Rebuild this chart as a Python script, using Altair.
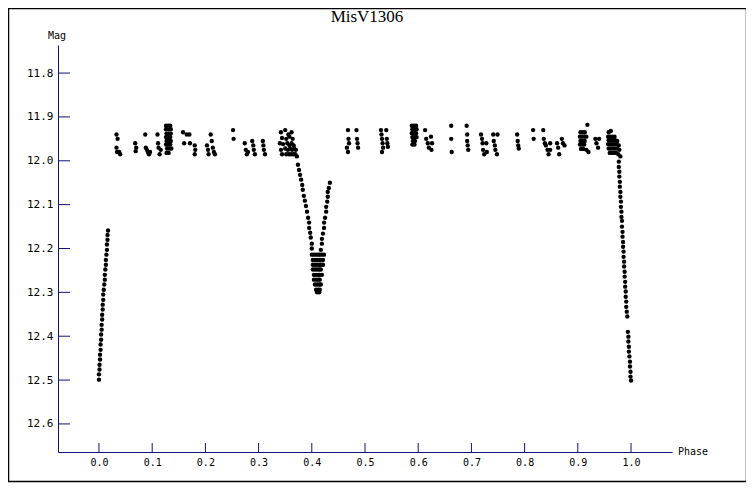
import altair as alt
import pandas as pd

title_text = "MisV1306"
x_ticks = [0.0, 0.1, 0.2, 0.3, 0.4, 0.5, 0.6, 0.7, 0.8, 0.9, 1.0]
y_ticks = [11.8, 11.9, 12.0, 12.1, 12.2, 12.3, 12.4, 12.5, 12.6]

# out-of-eclipse plateau (phase, mag)
plateau = [
    (0.033, 11.94), (0.035, 11.95), (0.033, 11.97), (0.034, 11.98), (0.038, 11.98), (0.040, 11.985),
    (0.068, 11.96), (0.070, 11.97), (0.069, 11.978),
    (0.087, 11.94), (0.088, 11.97), (0.090, 11.975), (0.092, 11.98), (0.094, 11.985), (0.096, 11.98),
    (0.110, 11.94), (0.111, 11.96), (0.112, 11.97), (0.114, 11.985), (0.116, 11.975),
    (0.126, 11.92), (0.130, 11.92), (0.134, 11.92),
    (0.126, 11.928), (0.131, 11.928), (0.135, 11.928),
    (0.127, 11.938), (0.131, 11.938), (0.135, 11.938),
    (0.126, 11.946), (0.130, 11.946), (0.134, 11.946),
    (0.127, 11.955), (0.131, 11.955), (0.135, 11.955),
    (0.126, 11.963), (0.130, 11.963), (0.134, 11.963),
    (0.128, 11.972), (0.132, 11.972), (0.136, 11.972),
    (0.127, 11.982), (0.131, 11.982),
    (0.158, 11.935), (0.160, 11.96), (0.165, 11.94), (0.170, 11.94), (0.171, 11.96),
    (0.180, 11.965), (0.181, 11.975), (0.180, 11.985),
    (0.203, 11.965), (0.205, 11.975), (0.206, 11.985), (0.210, 11.94), (0.212, 11.955),
    (0.214, 11.97), (0.216, 11.98), (0.218, 11.985),
    (0.252, 11.93), (0.253, 11.95),
    (0.274, 11.96), (0.276, 11.975), (0.278, 11.985), (0.280, 11.98),
    (0.288, 11.955), (0.290, 11.965), (0.291, 11.975), (0.293, 11.985),
    (0.308, 11.955), (0.309, 11.965), (0.310, 11.975), (0.312, 11.985),
    (0.342, 11.935), (0.350, 11.93), (0.356, 11.94), (0.362, 11.935),
    (0.344, 11.948), (0.352, 11.95), (0.358, 11.945), (0.364, 11.95),
    (0.340, 11.96), (0.346, 11.962), (0.354, 11.96), (0.358, 11.965), (0.362, 11.96), (0.366, 11.965),
    (0.342, 11.975), (0.350, 11.972), (0.355, 11.975), (0.359, 11.972), (0.363, 11.975), (0.367, 11.972), (0.370, 11.975),
    (0.344, 11.985), (0.352, 11.985), (0.357, 11.985), (0.361, 11.985), (0.365, 11.985), (0.369, 11.985), (0.372, 11.99),
    (0.468, 11.93), (0.469, 11.95), (0.470, 11.96), (0.466, 11.97), (0.468, 11.98),
    (0.484, 11.93), (0.485, 11.95), (0.486, 11.96), (0.487, 11.97),
    (0.530, 11.93), (0.531, 11.94), (0.532, 11.95), (0.533, 11.96), (0.534, 11.97), (0.532, 11.98),
    (0.540, 11.93), (0.541, 11.95), (0.542, 11.96), (0.543, 11.968),
    (0.588, 11.92), (0.592, 11.92), (0.596, 11.92),
    (0.589, 11.928), (0.593, 11.928), (0.597, 11.928),
    (0.588, 11.937), (0.592, 11.937), (0.596, 11.937),
    (0.589, 11.946), (0.593, 11.946), (0.597, 11.946),
    (0.590, 11.955), (0.594, 11.955), (0.589, 11.963), (0.593, 11.963),
    (0.613, 11.93), (0.615, 11.95), (0.618, 11.96), (0.620, 11.97), (0.624, 11.945), (0.626, 11.96), (0.625, 11.975),
    (0.662, 11.92), (0.662, 11.95), (0.663, 11.98),
    (0.691, 11.92), (0.692, 11.94), (0.692, 11.955), (0.693, 11.965), (0.694, 11.975),
    (0.718, 11.94), (0.720, 11.95), (0.721, 11.96), (0.722, 11.975), (0.724, 11.985), (0.728, 11.96), (0.729, 11.98),
    (0.741, 11.94), (0.742, 11.955), (0.744, 11.965), (0.745, 11.975), (0.748, 11.985), (0.749, 11.94),
    (0.786, 11.94), (0.787, 11.955), (0.788, 11.965), (0.789, 11.972),
    (0.816, 11.93), (0.817, 11.95),
    (0.835, 11.93), (0.836, 11.95), (0.838, 11.96), (0.840, 11.965), (0.843, 11.975), (0.845, 11.985),
    (0.848, 11.96), (0.848, 11.975),
    (0.861, 11.96), (0.863, 11.97), (0.865, 11.985), (0.870, 11.95), (0.872, 11.96), (0.875, 11.965),
    (0.918, 11.918),
    (0.905, 11.935), (0.909, 11.935), (0.913, 11.935),
    (0.904, 11.945), (0.908, 11.945), (0.912, 11.945), (0.916, 11.945),
    (0.905, 11.955), (0.909, 11.955), (0.913, 11.955),
    (0.904, 11.963), (0.908, 11.963), (0.912, 11.963),
    (0.906, 11.973), (0.910, 11.973), (0.916, 11.975), (0.920, 11.98),
    (0.933, 11.95), (0.935, 11.96), (0.938, 11.97), (0.940, 11.95),
    (0.958, 11.935), (0.962, 11.932),
    (0.957, 11.945), (0.961, 11.945), (0.965, 11.945), (0.969, 11.945),
    (0.958, 11.953), (0.962, 11.953), (0.966, 11.953), (0.970, 11.953), (0.974, 11.955),
    (0.957, 11.962), (0.961, 11.962), (0.965, 11.962), (0.969, 11.962), (0.973, 11.962), (0.977, 11.965),
    (0.958, 11.972), (0.962, 11.972), (0.966, 11.972), (0.970, 11.972), (0.974, 11.972), (0.978, 11.975),
    (0.960, 11.982), (0.964, 11.982), (0.968, 11.982), (0.972, 11.982), (0.976, 11.985), (0.980, 11.99),
]

# secondary eclipse
secondary = [
    (0.374, 12.009), (0.376, 12.021), (0.378, 12.032), (0.380, 12.043), (0.382, 12.055),
    (0.383, 12.066), (0.385, 12.080), (0.387, 12.091), (0.389, 12.103), (0.391, 12.116),
    (0.393, 12.130), (0.395, 12.141), (0.395, 12.153), (0.397, 12.164), (0.398, 12.175),
    (0.400, 12.189), (0.400, 12.200),
    (0.400, 12.214), (0.404, 12.214), (0.408, 12.214), (0.412, 12.214), (0.415, 12.214), (0.419, 12.214), (0.423, 12.214),
    (0.402, 12.226), (0.406, 12.226), (0.410, 12.226), (0.414, 12.226), (0.417, 12.226), (0.421, 12.226),
    (0.402, 12.237), (0.406, 12.237), (0.410, 12.237), (0.414, 12.237), (0.417, 12.237), (0.421, 12.237),
    (0.402, 12.248), (0.406, 12.248), (0.410, 12.248), (0.414, 12.248), (0.417, 12.248),
    (0.404, 12.260), (0.408, 12.260), (0.412, 12.260), (0.415, 12.260), (0.419, 12.260),
    (0.404, 12.271), (0.408, 12.271), (0.412, 12.271), (0.415, 12.271),
    (0.406, 12.282), (0.410, 12.282), (0.414, 12.282), (0.417, 12.282),
    (0.408, 12.294), (0.412, 12.294), (0.415, 12.294),
    (0.410, 12.300), (0.414, 12.300),
    (0.417, 12.203), (0.419, 12.189), (0.419, 12.178), (0.421, 12.166), (0.423, 12.153),
    (0.423, 12.141), (0.425, 12.130), (0.427, 12.116), (0.427, 12.105), (0.429, 12.093),
    (0.430, 12.082), (0.430, 12.071), (0.432, 12.062), (0.434, 12.050),
]

# primary eclipse ingress (phase ~0.98-1.0)
ingress = [
    (0.977, 12.002), (0.977, 12.014), (0.978, 12.025), (0.978, 12.036), (0.979, 12.048),
    (0.979, 12.059), (0.980, 12.071), (0.980, 12.082), (0.981, 12.093), (0.981, 12.105),
    (0.982, 12.116), (0.982, 12.128), (0.983, 12.137), (0.983, 12.150), (0.984, 12.162),
    (0.984, 12.173), (0.985, 12.185), (0.985, 12.196), (0.986, 12.207), (0.986, 12.219),
    (0.987, 12.230), (0.987, 12.241), (0.988, 12.253), (0.988, 12.264), (0.989, 12.276),
    (0.989, 12.287), (0.990, 12.298), (0.990, 12.310), (0.991, 12.321), (0.991, 12.333),
    (0.992, 12.344), (0.993, 12.355),
    (0.994, 12.390), (0.995, 12.401), (0.995, 12.412), (0.996, 12.424), (0.996, 12.435),
    (0.997, 12.446), (0.998, 12.458), (0.998, 12.469), (0.999, 12.481), (0.999, 12.492),
    (1.000, 12.501),
]

# primary eclipse egress (phase ~0.0-0.02)
egress = [
    (0.000, 12.499), (0.000, 12.487), (0.001, 12.476), (0.001, 12.465), (0.002, 12.453),
    (0.002, 12.442), (0.003, 12.431), (0.003, 12.419), (0.004, 12.408), (0.004, 12.396),
    (0.005, 12.385), (0.005, 12.374), (0.006, 12.362), (0.006, 12.351), (0.007, 12.339),
    (0.007, 12.328), (0.008, 12.317), (0.008, 12.305), (0.009, 12.294), (0.010, 12.282),
    (0.011, 12.271), (0.011, 12.260), (0.012, 12.248), (0.013, 12.237), (0.013, 12.226),
    (0.014, 12.214), (0.015, 12.203), (0.015, 12.191), (0.016, 12.180), (0.016, 12.169),
    (0.017, 12.159),
]

rows = plateau + secondary + ingress + egress
df = pd.DataFrame(rows, columns=["phase", "mag"])

NAVY = "#10107f"
W, H = 614, 407

xs = alt.Scale(domain=[-0.077, 1.077], nice=False, zero=False)
ys = alt.Scale(domain=[11.736, 12.664], nice=False, zero=False, reverse=True)

xaxis = alt.Axis(values=x_ticks, format=".1f", grid=False, ticks=False, labelPadding=5,
                 labelFont="DejaVu Sans Mono", labelFontSize=10, labelColor="black",
                 domainColor=NAVY, domainWidth=1, title=None)
yaxis = alt.Axis(values=y_ticks, format=".1f", grid=False, ticks=False, labelPadding=5,
                 labelFont="DejaVu Sans Mono", labelFontSize=11, labelColor="black",
                 domainColor=NAVY, domainWidth=1, title=None)

xenc = alt.X("phase:Q", scale=xs, axis=xaxis)
yenc = alt.Y("mag:Q", scale=ys, axis=yaxis)

points = alt.Chart(df).mark_circle(size=19, color="black", opacity=1).encode(x=xenc, y=yenc)

ytick_df = pd.DataFrame({"mag": y_ticks})
xtick_df = pd.DataFrame({"phase": x_ticks})

yt = alt.Chart(ytick_df).mark_rule(color=NAVY, strokeWidth=1).encode(
    y=yenc, x=alt.value(0), x2=alt.value(12))
xt = alt.Chart(xtick_df).mark_rule(color=NAVY, strokeWidth=1).encode(
    x=xenc, y=alt.value(H - 9), y2=alt.value(H))

one = pd.DataFrame({"a": [0]})
frame = alt.Chart(one).mark_rect(fill="transparent", stroke="black", strokeWidth=1.5, clip=False).encode(
    x=alt.value(-49.5), x2=alt.value(688.5), y=alt.value(-36.5), y2=alt.value(436.5))
title = alt.Chart(one).mark_text(text=title_text, font="Liberation Serif", fontSize=17,
                                 color="black", align="center", baseline="alphabetic").encode(
    x=alt.value(309), y=alt.value(-23))
mag_lbl = alt.Chart(one).mark_text(text="Mag", font="DejaVu Sans Mono", fontSize=10,
                                   color="black", align="center", baseline="middle").encode(
    x=alt.value(-1), y=alt.value(-9))
phase_lbl = alt.Chart(one).mark_text(text="Phase", font="DejaVu Sans Mono", fontSize=10,
                                     color="black", align="left", baseline="middle").encode(
    x=alt.value(620), y=alt.value(H))

chart = alt.layer(frame, yt, xt, points, title, mag_lbl, phase_lbl).properties(
    width=W, height=H,
    autosize=alt.AutoSizeParams(type="none"),
    padding={"left": 50, "top": 37, "right": 74, "bottom": 36},
    background="white",
).configure_view(stroke="transparent")

chart.save("out.html", embed_options={"renderer": "svg", "actions": False})
